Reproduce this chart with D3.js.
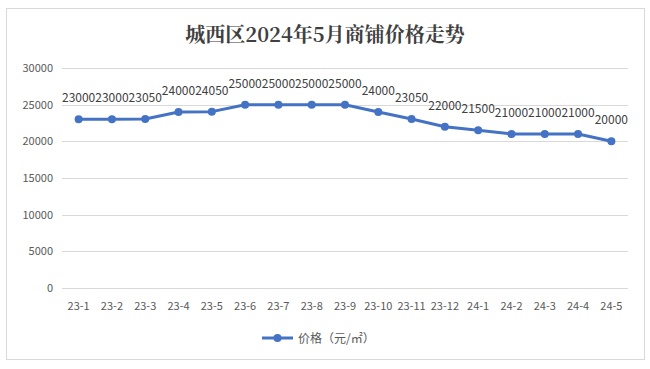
<!DOCTYPE html>
<html>
<head>
<meta charset="utf-8">
<script src="https://cdn.jsdelivr.net/npm/d3@7"></script>
<style>
  body { margin: 0; background: #fff; }
  svg text { font-family: "Microsoft YaHei", "Noto Sans CJK SC", "DejaVu Sans", sans-serif; }
</style>
</head>
<body>
<div id="chart"></div>
<script>
// data
const months = ['23-1', '23-2', '23-3', '23-4', '23-5', '23-6', '23-7', '23-8', '23-9',
    '23-10', '23-11', '23-12', '24-1', '24-2', '24-3', '24-4', '24-5'];
const prices = [23000, 23000, 23050, 24000, 24050, 25000, 25000, 25000, 25000,
    24000, 23050, 22000, 21500, 21000, 21000, 21000, 20000];
const yTicks = [0, 5000, 10000, 15000, 20000, 25000, 30000];
const seriesName = '价格（元/㎡）';
const titleText = '城西区2024年5月商铺价格走势';

const W = 650, H = 369;
const plot = { left: 62, right: 628, top: 68, bottom: 288 };
const blue = '#4472C4';

const svg = d3.select('#chart').append('svg')
    .attr('width', W)
    .attr('height', H);

svg.append('rect')
    .attr('x', 6.5).attr('y', 8.5)
    .attr('width', 638).attr('height', 351)
    .attr('fill', '#fff')
    .attr('stroke', '#d9d9d9');

svg.append('text')
    .attr('x', 325).attr('y', 42)
    .attr('text-anchor', 'middle')
    .attr('font-size', 20)
    .attr('font-weight', 'bold')
    .attr('fill', '#404040')
    .style('font-family', '"Noto Serif CJK SC", "Noto Sans CJK SC", serif')
    .text(titleText);

const x = d3.scaleBand()
    .domain(months)
    .range([plot.left, plot.right]);

const y = d3.scaleLinear()
    .domain([0, 30000])
    .range([plot.bottom, plot.top]);

// gridlines
svg.append('g')
    .selectAll('line')
    .data(yTicks)
    .join('line')
    .attr('x1', plot.left).attr('x2', plot.right)
    .attr('y1', d => Math.round(y(d)) + 0.5)
    .attr('y2', d => Math.round(y(d)) + 0.5)
    .attr('stroke', '#d9d9d9')
    .attr('stroke-width', 1);

// y axis labels
svg.append('g')
    .selectAll('text')
    .data(yTicks)
    .join('text')
    .attr('x', 53)
    .attr('y', d => y(d) + 4)
    .attr('text-anchor', 'end')
    .attr('font-size', 11)
    .attr('fill', '#595959')
    .text(d => d);

// x axis labels
svg.append('g')
    .selectAll('text')
    .data(months)
    .join('text')
    .attr('x', d => x(d) + x.bandwidth() / 2)
    .attr('y', 310)
    .attr('text-anchor', 'middle')
    .attr('font-size', 11)
    .attr('fill', '#595959')
    .text(d => d);

const pts = months.map((m, i) => ({ m, v: prices[i] }));
const cx = d => x(d.m) + x.bandwidth() / 2;

svg.append('path')
    .datum(pts)
    .attr('fill', 'none')
    .attr('stroke', blue)
    .attr('stroke-width', 3)
    .attr('stroke-linejoin', 'round')
    .attr('d', d3.line().x(cx).y(d => y(d.v)));

svg.append('g')
    .selectAll('circle')
    .data(pts)
    .join('circle')
    .attr('cx', cx)
    .attr('cy', d => y(d.v))
    .attr('r', 4)
    .attr('fill', blue);

// value labels
svg.append('g')
    .selectAll('text')
    .data(pts)
    .join('text')
    .attr('x', cx)
    .attr('y', d => y(d.v) - 17)
    .attr('text-anchor', 'middle')
    .attr('font-size', 12)
    .attr('fill', '#404040')
    .text(d => d.v);

// legend
const lg = svg.append('g').attr('transform', 'translate(262,338)');
lg.append('line')
    .attr('x1', 0).attr('x2', 31)
    .attr('stroke', blue).attr('stroke-width', 3);
lg.append('circle')
    .attr('cx', 15.5).attr('r', 4).attr('fill', blue);
lg.append('text')
    .attr('x', 36).attr('y', 4.5)
    .attr('font-size', 12)
    .attr('fill', '#595959')
    .text(seriesName);
</script>
</body>
</html>
